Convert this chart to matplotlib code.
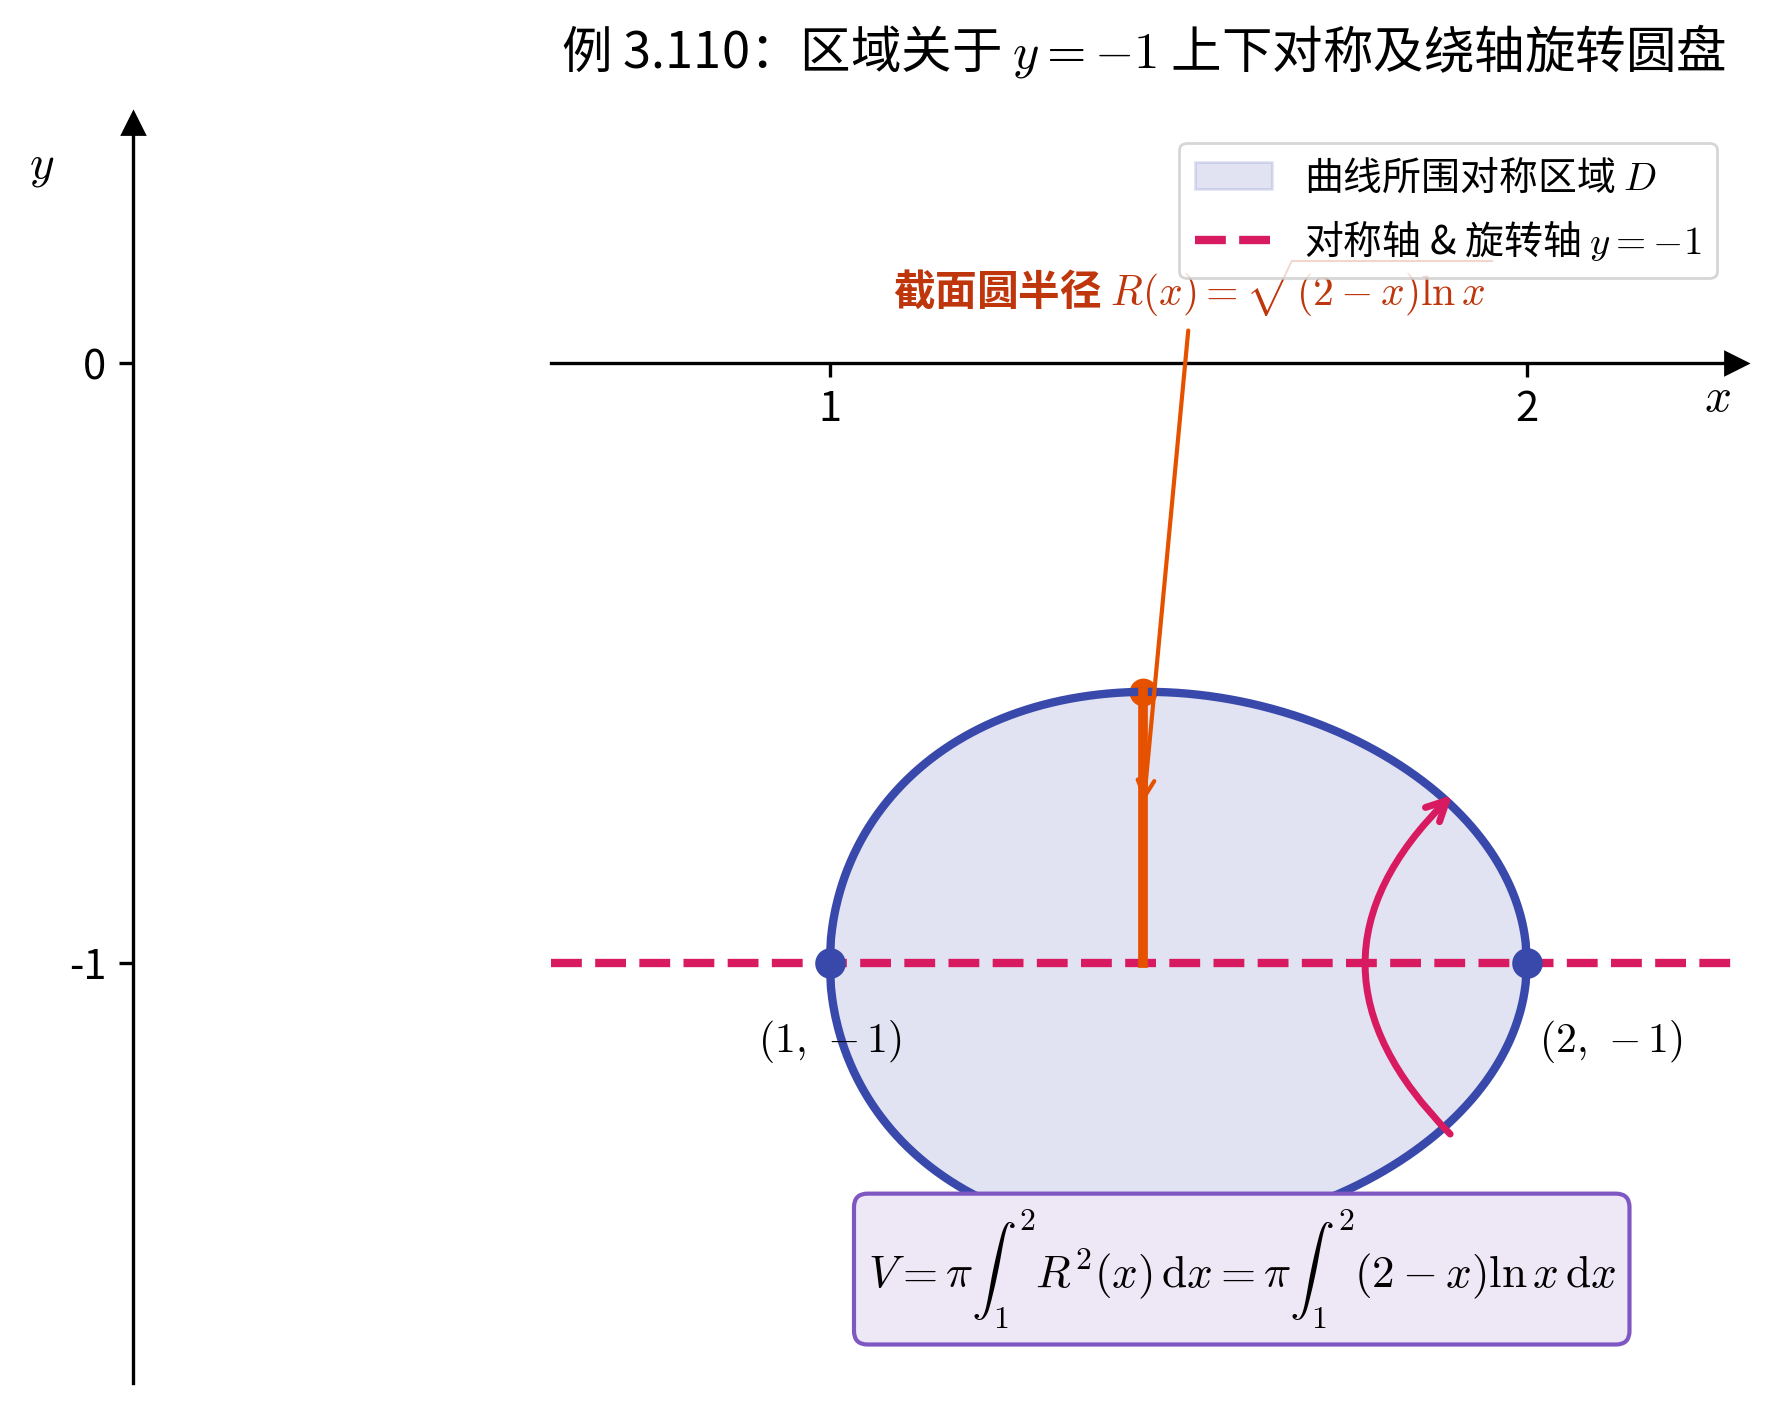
import numpy as np
import matplotlib
matplotlib.use("Agg")
import matplotlib.pyplot as plt

plt.rcParams['font.family'] = ['Noto Sans CJK SC', 'DejaVu Sans']
plt.rcParams['mathtext.fontset'] = 'cm'
plt.rcParams['axes.unicode_minus'] = False

# ---------------- data ----------------
x_start, x_end = 1.0, 2.0          # region D spans x in [1, 2]
axis_y = -1.0                       # symmetry / rotation axis y = -1
x_section = 1.45                    # position of the sample cross-section radius
xticks = [1, 2]
yticks = [0, -1]
xlim = (0.6, 2.3)
ylim = (-1.7, 0.4)
endpoints_x = [1.0, 2.0]
endpoints_y = [-1.0, -1.0]
endpoint_labels = [r"$(1,\,-1)$", r"$(2,\,-1)$"]
endpoint_label_x = [1.0, 2.12]
endpoint_label_y = [-1.13, -1.13]
rot_arrow_from = (1.89, -1.285)
rot_arrow_to = (1.893, -0.72)

title = "例 3.110：区域关于 $y=-1$ 上下对称及绕轴旋转圆盘"
legend_region = "曲线所围对称区域 $D$"
legend_axis = "对称轴 & 旋转轴 $y=-1$"
radius_label = r"截面圆半径 $R(x)=\sqrt{(2-x)\ln x}$"
volume_formula = (r"$V=\pi\int_1^2 R^2(x)\,\mathrm{d}x"
                  r"=\pi\int_1^2(2-x)\ln x\,\mathrm{d}x$")

# curve of the region: (y+1)^2 = (2-x) ln x
xs = np.linspace(x_start, x_end, 600)
R = np.sqrt(np.clip((2 - xs) * np.log(xs), 0, None))
R_sec = np.sqrt((2 - x_section) * np.log(x_section))

BLUE = '#3949AB'
PINK = '#D81B60'
ORANGE = '#E65100'
DARKORANGE = '#BF360C'

fig = plt.figure(figsize=(8.875, 7.05), dpi=200)
ax = fig.add_axes([0.3104, 0.0191, 0.6676, 0.8936])
ax.set_xlim(*xlim)
ax.set_ylim(*ylim)

# region
ax.fill_between(xs, axis_y - R, axis_y + R, color=BLUE, alpha=0.15, zorder=1,
                label=legend_region)
ax.plot(xs, axis_y + R, color=BLUE, lw=3, zorder=3)
ax.plot(xs, axis_y - R, color=BLUE, lw=3, zorder=3)

# symmetry axis
ax.axhline(axis_y, color=PINK, lw=3, ls='--', zorder=2, label=legend_axis)

# cross-section radius
ax.plot(x_section, axis_y + R_sec, 'o', color=ORANGE, ms=9, zorder=2.5)
ax.plot([x_section, x_section], [axis_y, axis_y + R_sec], color=ORANGE, lw=3.5,
        zorder=4)

# endpoints
ax.plot(endpoints_x, endpoints_y, 'o', color=BLUE, ms=10, zorder=5)
for lx, ly, lab in zip(endpoint_label_x, endpoint_label_y, endpoint_labels):
    ax.text(lx, ly, lab, ha='center', va='center', fontsize=15, zorder=6)

# rotation arrow
ax.annotate('', xy=rot_arrow_to, xytext=rot_arrow_from,
            arrowprops=dict(arrowstyle='->', color=PINK, lw=2.5,
                            connectionstyle='arc3,rad=-0.5', mutation_scale=18,
                            shrinkA=0, shrinkB=0),
            zorder=4)

# radius annotation
ax.annotate(radius_label, xy=(x_section, -0.74), xytext=(1.52, 0.125),
            ha='center', va='center', fontsize=15, color=DARKORANGE,
            fontweight='bold',
            arrowprops=dict(arrowstyle='->', color=ORANGE, lw=1.5,
                            mutation_scale=15),
            zorder=4)

# volume formula
ax.text(1.591, -1.51, volume_formula, ha='center', va='center', fontsize=16.3,
        zorder=7,
        bbox=dict(boxstyle='round,pad=0.3', fc='#EDE7F6', ec='#7E57C2', lw=1.5))

# axes styling
ax.spines['left'].set_position(('data', 0))
ax.spines['bottom'].set_position(('data', 0))
ax.spines['top'].set_visible(False)
ax.spines['right'].set_visible(False)
ax.spines['left'].set_linewidth(1.2)
ax.spines['bottom'].set_linewidth(1.2)
ax.set_xticks(xticks)
ax.set_yticks(yticks)
ax.tick_params(length=5, width=1.2, labelsize=15, pad=4.5)
ax.plot(1, 0, '>k', ms=8, transform=ax.get_yaxis_transform(), clip_on=False)
ax.plot(0, 1, '^k', ms=8, transform=ax.get_xaxis_transform(), clip_on=False)
ax.text(2.274, -0.058, '$x$', ha='center', va='center', fontsize=17)
ax.text(-0.13, 0.33, '$y$', ha='center', va='center', fontsize=17)

ax.set_title(title, fontsize=18.2, pad=20)
ax.legend(loc='upper right', fontsize=14)

fig.savefig('out.png', dpi=200)
